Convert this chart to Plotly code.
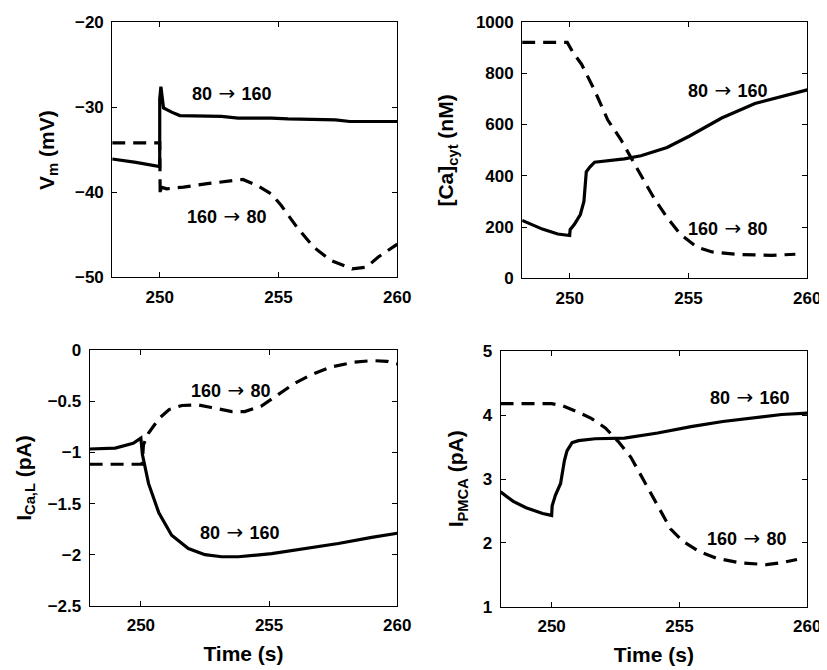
import plotly.graph_objects as go
from plotly.subplots import make_subplots

# Vm (mV)
vm_up_t = [248, 249, 250, 250.0, 250.05, 250.1, 250.16, 250.5, 250.85, 252.6, 253.3, 254.7, 255.4, 257.4, 258.0, 260]
vm_up_v = [-36.1, -36.5, -37.0, -29.0, -27.6, -28.5, -30.1, -30.6, -31.0, -31.1, -31.3, -31.3, -31.4, -31.5, -31.7, -31.7]
vm_dn_t = [248, 250, 250.02, 250.05, 250.3, 251, 252, 253, 253.5, 254.1, 254.7, 255.1, 255.8, 256.5, 257.2, 258.1, 258.7, 259.2, 260]
vm_dn_v = [-34.2, -34.2, -40.4, -39.4, -39.6, -39.4, -39.0, -38.7, -38.5, -39.2, -40.2, -41.5, -44.2, -46.5, -48.0, -49.0, -48.8, -47.6, -46.1]

# [Ca]cyt (nM)
ca_up_t = [248, 248.85, 249.5, 250, 250.02, 250.2, 250.45, 250.6, 250.7, 250.85, 251.05, 251.6, 252.3, 253, 254.1, 255.05, 256.4, 257.8, 259.2, 260]
ca_up_v = [226, 192, 173, 167, 190, 211, 249, 300, 415, 434, 453, 459, 466, 478, 510, 555, 625, 682, 715, 735]
ca_dn_t = [248, 249.9, 250.15, 250.5, 251.05, 251.6, 252.15, 252.6, 253, 253.55, 254.1, 254.65, 255.35, 256.0, 257.1, 258.5, 259.5]
ca_dn_v = [920, 920, 879, 835, 733, 618, 542, 466, 402, 313, 237, 173, 122, 103, 93, 90, 94]

# I_Ca,L (pA)
ical_up_t = [248, 249, 249.7, 250, 250.06, 250.3, 250.7, 251.2, 251.85, 252.5, 253.15, 253.8, 255.1, 256.4, 257.7, 259, 260]
ical_up_v = [-0.966, -0.957, -0.91, -0.86, -1.02, -1.305, -1.59, -1.81, -1.94, -2.0, -2.02, -2.02, -1.99, -1.94, -1.89, -1.83, -1.79]
ical_dn_t = [248, 250.05, 250.1, 250.3, 250.7, 251.1, 251.6, 252.25, 252.75, 253.55, 254.05, 254.7, 255.35, 256, 256.6, 257.4, 258.3, 259, 259.6, 260]
ical_dn_v = [-1.115, -1.115, -0.925, -0.81, -0.67, -0.58, -0.54, -0.535, -0.56, -0.60, -0.60, -0.545, -0.434, -0.323, -0.244, -0.165, -0.117, -0.101, -0.108, -0.133]

# I_PMCA (pA)
pmca_up_t = [248, 248.5, 249, 249.65, 250, 250.02, 250.15, 250.35, 250.5, 250.6, 250.8, 251.05, 251.7, 252.85, 254.15, 255.45, 256.7, 258, 259, 260]
pmca_up_v = [2.80, 2.65, 2.55, 2.46, 2.43, 2.58, 2.75, 2.93, 3.29, 3.44, 3.57, 3.60, 3.63, 3.64, 3.72, 3.82, 3.90, 3.96, 4.01, 4.03]
pmca_dn_t = [248, 250, 250.4, 250.9, 251.55, 252.1, 252.6, 253.1, 253.6, 254.15, 254.65, 255.15, 255.8, 256.45, 257.35, 258.4, 259.0, 259.6]
pmca_dn_v = [4.18, 4.18, 4.15, 4.07, 3.95, 3.80, 3.59, 3.34, 2.98, 2.58, 2.22, 2.02, 1.86, 1.76, 1.69, 1.66, 1.69, 1.74]

panels = [
    (vm_up_t, vm_up_v, vm_dn_t, vm_dn_v),
    (ca_up_t, ca_up_v, ca_dn_t, ca_dn_v),
    (ical_up_t, ical_up_v, ical_dn_t, ical_dn_v),
    (pmca_up_t, pmca_up_v, pmca_dn_t, pmca_dn_v),
]
y_ranges = [[-50, -20], [0, 1000], [-2.5, 0], [1, 5]]
y_ticks = [[-50, -40, -30, -20], [0, 200, 400, 600, 800, 1000],
           [-2.5, -2, -1.5, -1, -0.5, 0], [1, 2, 3, 4, 5]]
y_titles = ["V<sub>m</sub> (mV)", "[Ca]<sub>cyt</sub> (nM)", "I<sub>Ca,L</sub> (pA)", "I<sub>PMCA</sub> (pA)"]
ARROW = '<span style="font-family:DejaVu Sans;font-weight:normal;font-size:20px"> → </span>'
# labels: (from, to, x, y) in data coords
labels = [
    [("80", "160", 253.05, -28.4), ("160", "80", 252.85, -42.75)],
    [("80", "160", 256.65, 735), ("160", "80", 256.65, 198)],
    [("160", "80", 253.5, -0.39), ("80", "160", 253.85, -1.78)],
    [("80", "160", 257.75, 4.29), ("160", "80", 257.65, 2.07)],
]

W, H = 827, 670
x_dom = [[106 / W, 396 / W], [523 / W, 813 / W], [83 / W, 396 / W], [501 / W, 813 / W]]
y_dom = [[1 - 268 / H, 1 - 5 / H], [1 - 269 / H, 1 - 5 / H], [1 - 606 / H, 1 - 343 / H], [1 - 607 / H, 1 - 344 / H]]
ytitle_x = [40, 447, 17, 457]

FONT = "Liberation Sans"
fig = make_subplots(rows=2, cols=2)
for i, (ut, uv, dt, dv) in enumerate(panels):
    r, c = i // 2 + 1, i % 2 + 1
    fig.add_trace(go.Scatter(x=dt, y=dv, mode="lines", line=dict(color="black", width=3.2, dash="13px,8px")), row=r, col=c)
    fig.add_trace(go.Scatter(x=ut, y=uv, mode="lines", line=dict(color="black", width=3.2)), row=r, col=c)
    sfx = "" if i == 0 else str(i + 1)
    axis_style = dict(showline=True, linecolor="black", linewidth=1, mirror="allticks", ticks="inside",
                      ticklen=5, tickcolor="black", showgrid=False, zeroline=False,
                      tickfont=dict(family=FONT, size=17, color="black", weight="bold"))
    fig.layout["xaxis" + sfx].update(domain=x_dom[i], range=[248, 260], tickvals=[250, 255, 260],
                                     ticklabelstandoff=4, **axis_style)
    fig.layout["yaxis" + sfx].update(domain=y_dom[i], range=y_ranges[i], tickvals=y_ticks[i],
                                     ticklabelstandoff=4, **axis_style)
    if r == 2:
        fig.layout["xaxis" + sfx].title = dict(text="Time (s)", standoff=12,
                                                font=dict(family=FONT, size=21, color="black", weight="bold"))
    fig.add_annotation(text=y_titles[i], xref="paper", yref="paper", x=ytitle_x[i] / W,
                       y=sum(y_dom[i]) / 2, textangle=-90, showarrow=False, xanchor="center", yanchor="middle",
                       font=dict(family=FONT, size=21, color="black", weight="bold"))
    for a, b, lx, ly in labels[i]:
        fig.add_annotation(text=a + ARROW + b, x=lx, y=ly, xref="x" + sfx, yref="y" + sfx, showarrow=False,
                           font=dict(family=FONT, size=18, color="black", weight="bold"))

fig.update_layout(width=W, height=H, margin=dict(l=0, r=0, t=0, b=0), showlegend=False,
                  plot_bgcolor="white", paper_bgcolor="white")
fig.write_html("out.html")
